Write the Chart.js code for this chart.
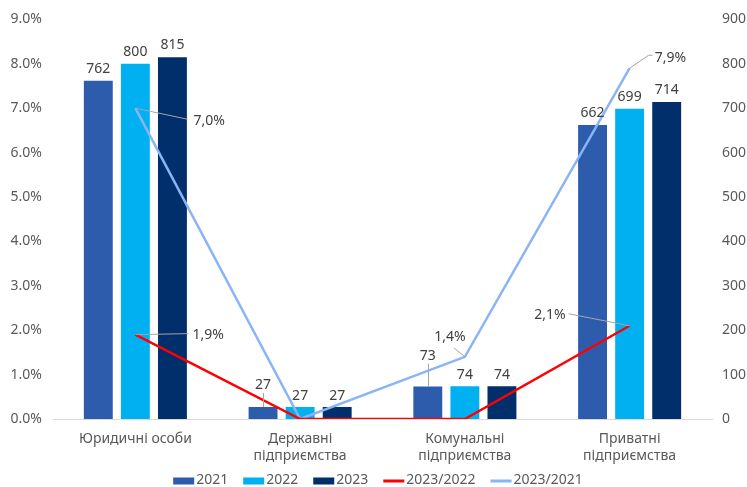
<!DOCTYPE html>
<html>
<head>
<meta charset="utf-8">
<script src="https://cdn.jsdelivr.net/npm/chart.js@4/dist/chart.umd.min.js"></script>
<style>
html,body{margin:0;padding:0;background:#ffffff;}
#wrap{width:747px;height:487px;}
canvas{display:block;}
</style>
</head>
<body>
<div id="wrap"><canvas id="c" width="747" height="487"></canvas></div>
<script>
// ---------- data ----------
const categories = ['Юридичні особи', ['Державні', 'підприємства'], ['Комунальні', 'підприємства'], ['Приватні', 'підприємства']];
const seriesNames = ['2021', '2022', '2023', '2023/2022', '2023/2021'];
const values2021 = [762, 27, 73, 662];
const values2022 = [800, 27, 74, 699];
const values2023 = [815, 27, 74, 714];
const growth2023vs2022 = [1.9, 0, 0, 2.1];
const growth2023vs2021 = [7.0, 0, 1.4, 7.9];
const leftTickLabels = ['0.0%', '1.0%', '2.0%', '3.0%', '4.0%', '5.0%', '6.0%', '7.0%', '8.0%', '9.0%'];
const rightTickLabels = ['0', '100', '200', '300', '400', '500', '600', '700', '800', '900'];

// ---------- styles ----------
const FONT = '"Noto Sans", "DejaVu Sans", sans-serif';
const colors = ['#2E5CAD', '#00B0F0', '#002F6B', '#FF0000', '#8AB4F8'];
// distance (px) from bar top to label centre, per bar series / category
const barLabelLift = [[12, 22, 31, 12], [12, 11, 11, 12], [12, 11, 11, 12]];
// line label placement relative to point: text anchor (tx,ty), align, leader path
const lineLabelStyle = {
  3: [
    {tx: 57, ty: 0, align: 'left', path: [[53, -1]]},
    null, null,
    {tx: -64, ty: -11, align: 'right', path: [[-61, -12]]}
  ],
  4: [
    {tx: 58, ty: 13, align: 'left', path: [[52, 11]]},
    null,
    {tx: -15, ty: -20, align: 'center', path: [[-11, -9]]},
    {tx: 25, ty: -10, align: 'left', path: [[19, -13], [23, -13]]}
  ]
};

const labelPlugin = {
  id: 'valueLabels',
  afterDatasetsDraw(chart) {
    const ctx = chart.ctx;
    ctx.save();
    ctx.font = '14px ' + FONT;
    ctx.textBaseline = 'middle';
    [0, 1, 2].forEach(di => {
      const meta = chart.getDatasetMeta(di);
      meta.data.forEach((el, j) => {
        const v = chart.data.datasets[di].data[j];
        const lift = barLabelLift[di][j];
        const x = el.x, y = el.y - lift;
        if (lift > 16) {
          ctx.strokeStyle = '#A6A6A6';
          ctx.lineWidth = 1;
          ctx.beginPath();
          ctx.moveTo(Math.round(x) + 0.5, y + 8);
          ctx.lineTo(Math.round(x) + 0.5, el.y);
          ctx.stroke();
        }
        ctx.fillStyle = '#404040';
        ctx.textAlign = 'center';
        ctx.fillText(String(v), x, y);
      });
    });
    [3, 4].forEach(di => {
      const meta = chart.getDatasetMeta(di);
      meta.data.forEach((el, j) => {
        const st = lineLabelStyle[di][j];
        const v = chart.data.datasets[di].data[j];
        if (!st || !v) return;
        ctx.strokeStyle = '#A6A6A6';
        ctx.lineWidth = 1;
        ctx.beginPath();
        ctx.moveTo(el.x, el.y);
        st.path.forEach(p => ctx.lineTo(el.x + p[0], el.y + p[1]));
        ctx.stroke();
        ctx.fillStyle = '#404040';
        ctx.textAlign = st.align;
        ctx.fillText(v.toFixed(1).replace('.', ',') + '%', el.x + st.tx, el.y + st.ty);
      });
    });
    ctx.restore();
  }
};

const legendPlugin = {
  id: 'bottomLegend',
  afterDraw(chart) {
    const ctx = chart.ctx;
    ctx.save();
    ctx.font = '14px ' + FONT;
    ctx.textBaseline = 'middle';
    ctx.textAlign = 'left';
    const mw = 21, gapText = 2, gapItem = 15;
    const ds = chart.data.datasets;
    const widths = ds.map(d => mw + gapText + ctx.measureText(d.label).width);
    const total = widths.reduce((a, b) => a + b, 0) + gapItem * (ds.length - 1);
    let x = 378 - total / 2;
    const yc = 481;
    ds.forEach((d, i) => {
      if (d.type === 'line') {
        ctx.strokeStyle = d.borderColor;
        ctx.lineWidth = 3;
        ctx.beginPath();
        ctx.moveTo(x, yc);
        ctx.lineTo(x + mw, yc);
        ctx.stroke();
      } else {
        ctx.fillStyle = d.backgroundColor;
        ctx.fillRect(x, yc - 3.5, mw, 7);
      }
      ctx.fillStyle = '#595959';
      ctx.fillText(d.label, x + mw + gapText, yc - 0.5);
      x += widths[i] + gapItem;
    });
    ctx.restore();
  }
};

const barCommon = {type: 'bar', yAxisID: 'yR', order: 2, categoryPercentage: 0.675, barPercentage: 0.78, borderWidth: 0};
const lineCommon = {type: 'line', yAxisID: 'yL', order: 1, borderWidth: 2.5, pointRadius: 0, pointHoverRadius: 0, fill: false, tension: 0};

new Chart(document.getElementById('c'), {
  data: {
    labels: categories,
    datasets: [
      Object.assign({label: seriesNames[0], data: values2021, backgroundColor: colors[0]}, barCommon),
      Object.assign({label: seriesNames[1], data: values2022, backgroundColor: colors[1]}, barCommon),
      Object.assign({label: seriesNames[2], data: values2023, backgroundColor: colors[2]}, barCommon),
      Object.assign({label: seriesNames[3], data: growth2023vs2022, borderColor: colors[3], backgroundColor: colors[3]}, lineCommon),
      Object.assign({label: seriesNames[4], data: growth2023vs2021, borderColor: colors[4], backgroundColor: colors[4]}, lineCommon)
    ]
  },
  options: {
    responsive: false,
    animation: false,
    layout: {padding: {top: 9, bottom: 22, left: 0, right: 0}},
    plugins: {legend: {display: false}, tooltip: {enabled: false}},
    scales: {
      x: {
        grid: {display: false, drawTicks: false},
        border: {display: true, color: '#D9D9D9', width: 1},
        ticks: {color: '#595959', font: {family: FONT, size: 14, lineHeight: 1.2}, padding: 12, maxRotation: 0, autoSkip: false},
        afterFit(s) { s.height = 46; }
      },
      yL: {
        position: 'left', min: 0, max: 9,
        grid: {display: false, drawTicks: false},
        border: {display: false},
        ticks: {stepSize: 1, color: '#595959', font: {family: FONT, size: 14}, padding: 11,
          callback: (v, i) => leftTickLabels[i]},
        afterFit(s) { s.width = 53; }
      },
      yR: {
        position: 'right', min: 0, max: 900,
        grid: {display: false, drawTicks: false},
        border: {display: false},
        ticks: {stepSize: 100, color: '#595959', font: {family: FONT, size: 14}, padding: 10,
          callback: (v, i) => rightTickLabels[i]},
        afterFit(s) { s.width = 35; }
      }
    }
  },
  plugins: [labelPlugin, legendPlugin]
});
</script>
</body>
</html>
